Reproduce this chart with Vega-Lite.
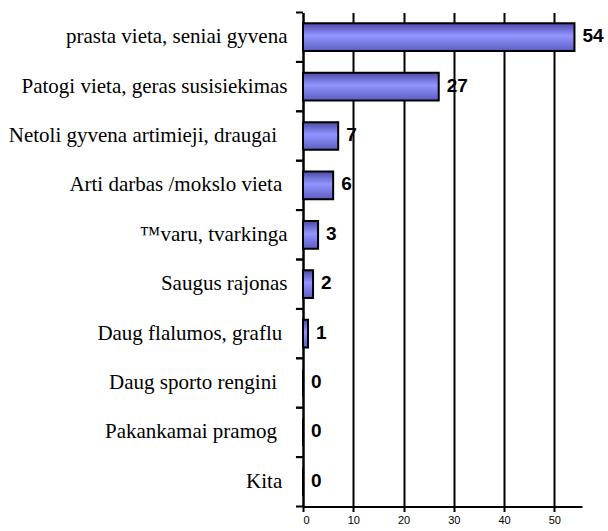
{
  "$schema": "https://vega.github.io/schema/vega-lite/v6.json",
  "width": 279,
  "height": 494,
  "autosize": {"type": "none"},
  "padding": {"left": 303, "top": 12.5, "right": 26, "bottom": 24.5},
  "background": "white",
  "config": {"view": {"stroke": null}},
  "data": {
    "values": [
      {"reason": "prasta vieta, seniai gyvena", "count": 54},
      {"reason": "Patogi vieta, geras susisiekimas", "count": 27},
      {"reason": "Netoli gyvena artimieji, draugai\u00a0\u00a0\u200d", "count": 7},
      {"reason": "Arti darbas /mokslo vieta\u00a0\u200d", "count": 6},
      {"reason": "™varu, tvarkinga", "count": 3},
      {"reason": "Saugus rajonas", "count": 2},
      {"reason": "Daug flalumos, graflu\u00a0\u200d", "count": 1},
      {"reason": "Daug sporto rengini\u00a0\u00a0\u200d", "count": 0},
      {"reason": "Pakankamai pramog\u00a0\u00a0\u200d", "count": 0},
      {"reason": "Kita\u00a0\u200d", "count": 0}
    ]
  },
  "encoding": {
    "y": {
      "field": "reason",
      "type": "nominal",
      "sort": null,
      "scale": {"paddingInner": 0.44, "paddingOuter": 0.22},
      "axis": {
        "title": null,
        "ticks": false,
        "domainColor": "#000000",
        "domainWidth": 2,
        "labelFont": "Liberation Serif",
        "labelFontSize": 21,
        "labelColor": "black",
        "labelPadding": 16,
        "labelLimit": 400
      }
    },
    "x": {
      "field": "count",
      "type": "quantitative",
      "scale": {"domain": [0, 55.5], "nice": false},
      "axis": {
        "title": null,
        "values": [0, 10, 20, 30, 40, 50],
        "domainColor": "black",
        "domainWidth": 2,
        "tickColor": "black",
        "tickWidth": 2,
        "tickSize": 5,
        "gridColor": "black",
        "gridWidth": 2,
        "gridOpacity": 1,
        "labelFont": "Liberation Sans",
        "labelFontSize": 11,
        "labelColor": "black",
        "labelPadding": 3
      }
    }
  },
  "layer": [
    {
      "mark": {"type": "rule", "color": "black", "strokeWidth": 2, "yOffset": 10.87},
      "encoding": {
        "y": {"field": "reason", "type": "nominal", "sort": null, "bandPosition": 1},
        "x": {"datum": -1.4},
        "x2": {"datum": 0}
      }
    },
    {
      "mark": {"type": "rule", "color": "black", "strokeWidth": 2, "yOffset": -10.87},
      "encoding": {
        "y": {"field": "reason", "type": "nominal", "sort": null, "bandPosition": 0},
        "x": {"datum": -1.4},
        "x2": {"datum": 0}
      }
    },
    {
      "mark": {
        "type": "bar",
        "stroke": "black",
        "strokeWidth": 2,
        "color": {
          "gradient": "linear",
          "x1": 0, "y1": 0, "x2": 0, "y2": 1,
          "stops": [
            {"offset": 0, "color": "#4a4aa8"},
            {"offset": 0.45, "color": "#9494ff"},
            {"offset": 1, "color": "#5c5cc0"}
          ]
        }
      }
    },
    {
      "mark": {
        "type": "text",
        "align": "left",
        "baseline": "middle",
        "dx": 8,
        "dy": -1,
        "font": "Liberation Sans",
        "fontWeight": "bold",
        "fontSize": 19,
        "color": "black"
      },
      "encoding": {"text": {"field": "count", "type": "quantitative"}}
    }
  ]
}
